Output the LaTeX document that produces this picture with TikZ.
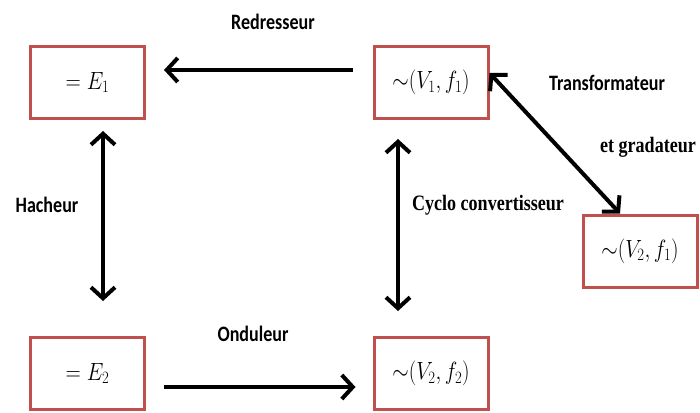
\documentclass[tikz,border=0pt]{standalone}
\usepackage{amsmath}
\usepackage{amssymb}
\usepackage{fontspec}
\setsansfont[FakeStretch=0.82]{Carlito}
\newfontfamily\timesfont[FakeStretch=0.82]{Liberation Serif}
\usetikzlibrary{arrows.meta}

\definecolor{boxred}{RGB}{192,80,77}

\begin{document}
\begin{tikzpicture}[x=1pt, y=-1pt,
	convbox/.style={draw=boxred, line width=3pt, minimum width=114pt, minimum height=72pt,
		inner sep=0pt, font=\fontsize{25}{28}\selectfont},
	lbl/.style={font=\fontsize{22}{24}\selectfont\sffamily\bfseries, inner sep=0pt},
	lbltm/.style={font=\fontsize{22}{24}\selectfont\timesfont\bfseries, inner sep=0pt},
	arr/.style={line width=4pt, -{Straight Barb[length=11pt,width=24pt]}},
	dblarr/.style={line width=4pt, {Straight Barb[length=11pt,width=24pt]}-{Straight Barb[length=11pt,width=24pt]}}]
	\useasboundingbox (0,0) rectangle (700,412);
	%% sources
	\node[convbox] (e1) at (87.5,82.5) {\scalebox{0.85}[1]{$=E_1$}};
	\node[convbox] (v1f1) at (431,82.5) {\scalebox{0.85}[1]{${\sim}(V_1,f_1)$}};
	\node[convbox] (v2f1) at (640,251) {\scalebox{0.85}[1]{${\sim}(V_2,f_1)$}};
	\node[convbox] (e2) at (87.5,373.5) {\scalebox{0.85}[1]{$=E_2$}};
	\node[convbox] (v2f2) at (431,373.5) {\scalebox{0.85}[1]{${\sim}(V_2,f_2)$}};
	%%
	\draw[arr, shorten <=20pt, shorten >=18pt] ([yshift=12.5pt]v1f1.west) -- ([yshift=12.5pt]e1.east);
	\draw[dblarr, shorten <=11pt, shorten >=35pt] ([xshift=15.5pt]e1.south) -- ([xshift=15.5pt]e2.north);
	\draw[arr, shorten <=18pt, shorten >=17pt] ([yshift=-13.5pt]e2.east) -- ([yshift=-13.5pt]v2f2.west);
	\draw[dblarr, shorten <=19pt, shorten >=25pt] ([xshift=-33pt]v1f1.south) -- ([xshift=-33pt]v2f2.north);
	\draw[dblarr] ([yshift=9.5pt]v1f1.east) -- ([xshift=-20pt]v2f1.north);
	%%
	\node[lbl] (redr) at (273,22) {Redresseur};
	\node[lbl] (hach) at (47,205) {Hacheur};
	\node[lbl] (ondu) at (253,334) {Onduleur};
	\node[lbl] (transf) at (607,83) {Transformateur};
	\node[lbltm] (cyclo) at (488,205) {Cyclo convertisseur};
	\node[lbltm] (grad) at (648,147) {et gradateur};
\end{tikzpicture}
\end{document}
